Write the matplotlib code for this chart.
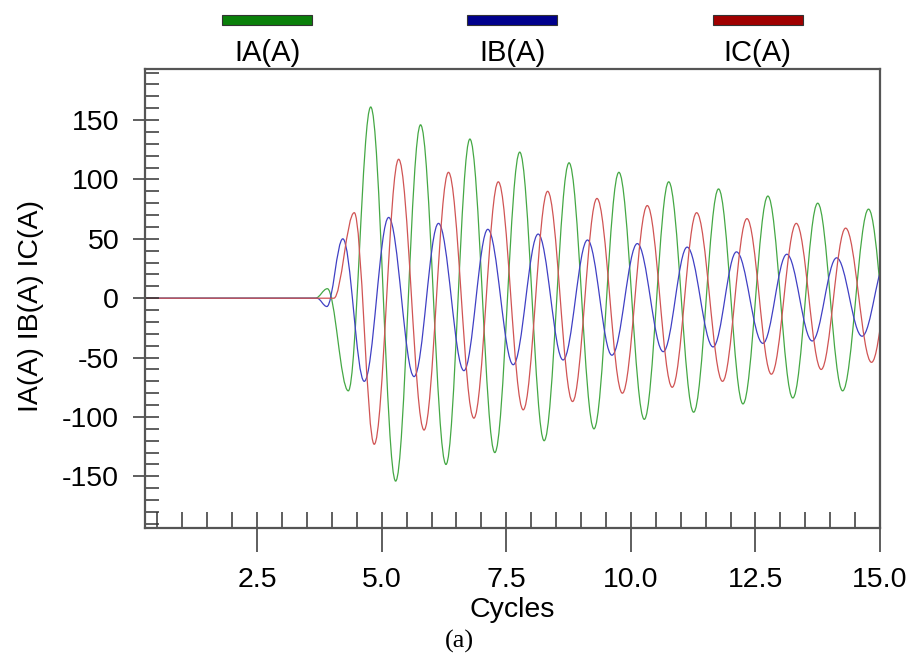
import matplotlib
matplotlib.use("Agg")
import matplotlib.pyplot as plt
from matplotlib.path import Path
from matplotlib.patches import PathPatch, Rectangle
from matplotlib.ticker import MultipleLocator, FormatStrFormatter
from matplotlib.transforms import blended_transform_factory

# peak / trough points of each phase current (cycles, A)
ia_t = [0.25, 3.67, 3.91, 4.33, 4.78, 5.28, 5.78, 6.29, 6.77, 7.27, 7.77, 8.26, 8.76,
        9.26, 9.76, 10.27, 10.76, 11.26, 11.76, 12.25, 12.75, 13.25, 13.75, 14.25,
        14.77, 15.27]
ia_v = [0, 0, 8, -78, 161, -154, 146, -140, 134, -130, 123, -120, 114,
        -110, 106, -102, 98, -96, 92, -89, 86, -84, 80, -78,
        75, -72]

ib_t = [0.25, 3.70, 3.90, 4.22, 4.65, 5.14, 5.65, 6.14, 6.65, 7.13, 7.64, 8.14, 8.64,
        9.13, 9.62, 10.13, 10.65, 11.13, 11.65, 12.12, 12.65, 13.13, 13.64, 14.13,
        14.64, 15.13]
ib_v = [0, 0, -7, 50, -70, 68, -66, 63, -61, 58, -56, 54, -52,
        49, -48, 46, -45, 43, -41, 39, -38, 37, -36, 34,
        -32, 32]

ic_t = [0.25, 4.04, 4.45, 4.85, 5.34, 5.85, 6.34, 6.85, 7.34, 7.84, 8.33, 8.83,
        9.32, 9.83, 10.33, 10.83, 11.32, 11.84, 12.33, 12.82, 13.32, 13.82, 14.31,
        14.83, 15.33]
ic_v = [0, 0, 72, -123, 117, -111, 106, -101, 98, -94, 90, -87,
        84, -80, 78, -75, 72, -70, 67, -64, 63, -60, 59,
        -54, 55]

labels = ["IA(A)", "IB(A)", "IC(A)"]
line_colors = ["#45a845", "#4040c4", "#d05454"]
swatch_colors = ["#0a800a", "#00008c", "#a00000"]

plt.rcParams["font.family"] = ["Liberation Sans", "DejaVu Sans"]
plt.rcParams["axes.unicode_minus"] = False


def wave_path(t, v, k=0.3634):
    """Smooth half-wave Bezier segments between consecutive extrema."""
    verts = [(t[0], v[0])]
    codes = [Path.MOVETO]
    for i in range(len(t) - 1):
        dt = t[i + 1] - t[i]
        verts += [(t[i] + k * dt, v[i]), (t[i + 1] - k * dt, v[i + 1]), (t[i + 1], v[i + 1])]
        codes += [Path.CURVE4] * 3
    return Path(verts, codes)


fig = plt.figure(figsize=(9.12, 6.57), dpi=100)
ax = fig.add_axes([145 / 912, 129 / 657, 735 / 912, 459 / 657])

for (t, v), c in zip([(ia_t, ia_v), (ib_t, ib_v), (ic_t, ic_v)], line_colors):
    ax.add_patch(PathPatch(wave_path(t, v), fill=False, edgecolor=c, lw=0.9))

ax.set_xlim(0.25, 15.0)
ax.set_ylim(-193.5, 193)

ax.xaxis.set_major_locator(MultipleLocator(2.5))
ax.xaxis.set_minor_locator(MultipleLocator(0.5))
ax.xaxis.set_major_formatter(FormatStrFormatter("%.1f"))
ax.yaxis.set_major_locator(MultipleLocator(50))
ax.yaxis.set_minor_locator(MultipleLocator(10))
ax.xaxis.remove_overlapping_locs = False
ax.yaxis.remove_overlapping_locs = False

ax.tick_params(axis="x", which="major", direction="out", length=17, width=1.1,
               labelsize=20.5, pad=11, color="#333333")
ax.tick_params(axis="x", which="minor", direction="in", length=11.5, width=1.1,
               color="#333333")
ax.tick_params(axis="y", which="major", direction="out", length=8.6, width=1.1,
               labelsize=20.5, pad=10, color="#333333")
ax.tick_params(axis="y", which="minor", direction="in", length=10, width=1.1,
               color="#333333")
for spine in ax.spines.values():
    spine.set_color("#555555")
    spine.set_linewidth(1.6)

ax.set_xlabel("Cycles", fontsize=20.5)
ax.xaxis.set_label_coords(0.5, -0.15)
ax.set_ylabel("IA(A) IB(A) IC(A)", fontsize=20.5)
ax.yaxis.set_label_coords(-0.138, 0.484)

# legend bars across the top
trans = blended_transform_factory(ax.transAxes, fig.transFigure)
for i, (lab, sc) in enumerate(zip(labels, swatch_colors)):
    xc = (2 * i + 1) / 6
    fig.add_artist(Rectangle((xc - 45 / 735, 1 - 25 / 657), 90 / 735, 10 / 657,
                             facecolor=sc, edgecolor="#333333", lw=0.8,
                             transform=trans))
    fig.text(xc, 1 - 53 / 657, lab, transform=trans, ha="center", va="center",
             fontsize=21)

fig.text(459 / 912, 1 - 641 / 657, "(a)", ha="center", va="center", fontsize=19,
         family="Liberation Serif")

fig.savefig("out.png", dpi=100)
